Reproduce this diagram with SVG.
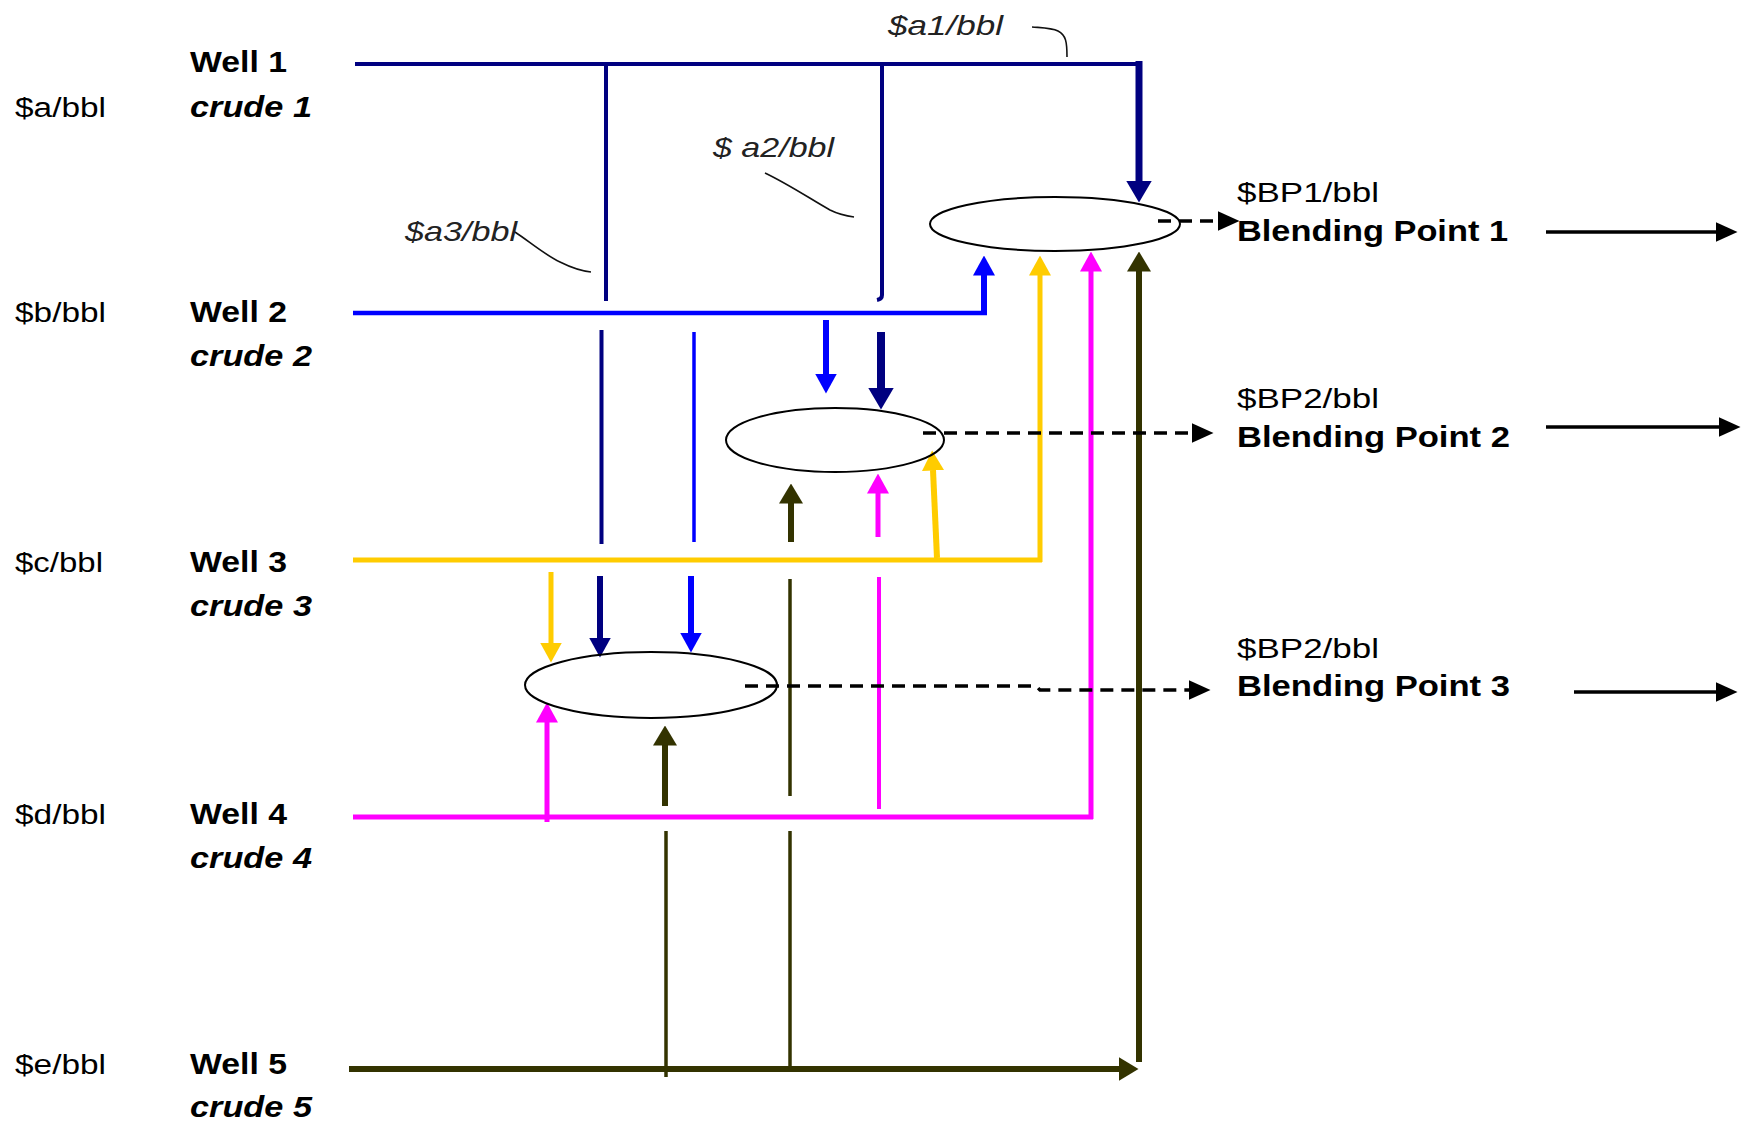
<svg xmlns="http://www.w3.org/2000/svg" width="1750" height="1125" viewBox="0 0 1750 1125">
<style>
text{font-family:"Liberation Sans",Arial,sans-serif;fill:#000}
.price{font-size:27px}
.well{font-size:30px;font-weight:bold}
.crude{font-size:30px;font-weight:bold;font-style:italic}
.bpp{font-size:28px}
.bpn{font-size:30px;font-weight:bold}
.ann{font-size:28px;font-style:italic;fill:#222}
.ell{fill:none;stroke:#000;stroke-width:2}
.ln{fill:none;stroke-linecap:butt;stroke-linejoin:miter}
.navy{stroke:#000080}
.blue{stroke:#0000FF}
.yel{stroke:#FFCC00}
.mag{stroke:#FF00FF}
.olv{stroke:#333300}
.blk{stroke:#000}
.dash{stroke-dasharray:13 8}
.lead{fill:none;stroke:#111;stroke-width:1.6}
</style>
<defs>
<marker id="ah-navy" viewBox="0 0 20 22" refX="0.5" refY="11" markerWidth="20" markerHeight="22" orient="auto" markerUnits="userSpaceOnUse"><path d="M0,0 L20,11 L0,22 z" fill="#000080"/></marker>
<marker id="ah-navy-big" viewBox="0 0 22 26" refX="0.5" refY="13" markerWidth="22" markerHeight="26" orient="auto" markerUnits="userSpaceOnUse"><path d="M0,0 L22,13 L0,26 z" fill="#000080"/></marker>
<marker id="ah-blue" viewBox="0 0 20 22" refX="0.5" refY="11" markerWidth="20" markerHeight="22" orient="auto" markerUnits="userSpaceOnUse"><path d="M0,0 L20,11 L0,22 z" fill="#0000FF"/></marker>
<marker id="ah-yel" viewBox="0 0 20 22" refX="0.5" refY="11" markerWidth="20" markerHeight="22" orient="auto" markerUnits="userSpaceOnUse"><path d="M0,0 L20,11 L0,22 z" fill="#FFCC00"/></marker>
<marker id="ah-mag" viewBox="0 0 20 22" refX="0.5" refY="11" markerWidth="20" markerHeight="22" orient="auto" markerUnits="userSpaceOnUse"><path d="M0,0 L20,11 L0,22 z" fill="#FF00FF"/></marker>
<marker id="ah-olv" viewBox="0 0 20 24" refX="0.5" refY="12" markerWidth="20" markerHeight="24" orient="auto" markerUnits="userSpaceOnUse"><path d="M0,0 L20,12 L0,24 z" fill="#333300"/></marker>
<marker id="ah-blk" viewBox="0 0 22 20" refX="0.5" refY="10" markerWidth="22" markerHeight="20" orient="auto" markerUnits="userSpaceOnUse"><path d="M0,0 L22,10 L0,20 z" fill="#000"/></marker>
</defs>
<rect width="1750" height="1125" fill="#fff"/>

<g id="well1">
<text class="well" x="190" y="72" textLength="97" lengthAdjust="spacingAndGlyphs">Well 1</text>
<text class="crude" x="190" y="117" textLength="122" lengthAdjust="spacingAndGlyphs">crude 1</text>
<text class="price" x="15" y="117" textLength="91" lengthAdjust="spacingAndGlyphs">$a/bbl</text>
</g>
<g id="well2">
<text class="well" x="190" y="322" textLength="97" lengthAdjust="spacingAndGlyphs">Well 2</text>
<text class="crude" x="190" y="366" textLength="122" lengthAdjust="spacingAndGlyphs">crude 2</text>
<text class="price" x="15" y="322" textLength="91" lengthAdjust="spacingAndGlyphs">$b/bbl</text>
</g>
<g id="well3">
<text class="well" x="190" y="572" textLength="97" lengthAdjust="spacingAndGlyphs">Well 3</text>
<text class="crude" x="190" y="616" textLength="122" lengthAdjust="spacingAndGlyphs">crude 3</text>
<text class="price" x="15" y="572" textLength="88" lengthAdjust="spacingAndGlyphs">$c/bbl</text>
</g>
<g id="well4">
<text class="well" x="190" y="824" textLength="97" lengthAdjust="spacingAndGlyphs">Well 4</text>
<text class="crude" x="190" y="868" textLength="122" lengthAdjust="spacingAndGlyphs">crude 4</text>
<text class="price" x="15" y="824" textLength="91" lengthAdjust="spacingAndGlyphs">$d/bbl</text>
</g>
<g id="well5">
<text class="well" x="190" y="1074" textLength="97" lengthAdjust="spacingAndGlyphs">Well 5</text>
<text class="crude" x="190" y="1117" textLength="122" lengthAdjust="spacingAndGlyphs">crude 5</text>
<text class="price" x="15" y="1074" textLength="91" lengthAdjust="spacingAndGlyphs">$e/bbl</text>
</g>

<g id="connectors">
<!-- Well 1 navy -->
<path class="ln navy" stroke-width="4" d="M355,64 H1142"/>
<path class="ln navy" stroke-width="7" d="M1139,61 V181" marker-end="url(#ah-navy-big)"/>
<path class="ln navy" stroke-width="4" d="M882,64 V295 Q882,299 877,300"/>
<path class="ln navy" stroke-width="8" d="M881,332 V388" marker-end="url(#ah-navy-big)"/>
<path class="ln navy" stroke-width="4" d="M606,66 V301"/>
<path class="ln navy" stroke-width="4" d="M601.5,330 V544"/>
<path class="ln navy" stroke-width="6" d="M600,576 V638" marker-end="url(#ah-navy)"/>
<!-- Well 2 blue -->
<path class="ln blue" stroke-width="4.5" d="M353,313 H987"/>
<path class="ln blue" stroke-width="6" d="M984,315 V275" marker-end="url(#ah-blue)"/>
<path class="ln blue" stroke-width="3.5" d="M694,332 V542"/>
<path class="ln blue" stroke-width="6" d="M691,576 V633" marker-end="url(#ah-blue)"/>
<path class="ln blue" stroke-width="6" d="M826,320 V374" marker-end="url(#ah-blue)"/>
<!-- Well 3 yellow -->
<path class="ln yel" stroke-width="5" d="M353,560 H1042"/>
<path class="ln yel" stroke-width="5" d="M1040,562 V275" marker-end="url(#ah-yel)"/>
<path class="ln yel" stroke-width="6" d="M937,558 L933,470" marker-end="url(#ah-yel)"/>
<path class="ln yel" stroke-width="5" d="M551,572 V643" marker-end="url(#ah-yel)"/>
<!-- Well 4 magenta -->
<path class="ln mag" stroke-width="5" d="M353,817 H1093"/>
<path class="ln mag" stroke-width="5" d="M1091,819 V271" marker-end="url(#ah-mag)"/>
<path class="ln mag" stroke-width="5" d="M547,822 V722" marker-end="url(#ah-mag)"/>
<path class="ln mag" stroke-width="4" d="M879,577 V809"/>
<path class="ln mag" stroke-width="5" d="M878,537 V493" marker-end="url(#ah-mag)"/>
<!-- Well 5 olive -->
<path class="ln olv" stroke-width="6" d="M349,1069 H1119" marker-end="url(#ah-olv)"/>
<path class="ln olv" stroke-width="6" d="M1139,1062 V271" marker-end="url(#ah-olv)"/>
<path class="ln olv" stroke-width="3.5" d="M666,1077 V831"/>
<path class="ln olv" stroke-width="6" d="M665,806 V745" marker-end="url(#ah-olv)"/>
<path class="ln olv" stroke-width="3.5" d="M790,1069 V831"/>
<path class="ln olv" stroke-width="3.5" d="M790,796 V579"/>
<path class="ln olv" stroke-width="6" d="M791,542 V503" marker-end="url(#ah-olv)"/>
<!-- outputs -->
<path class="ln blk dash" stroke-width="3.5" d="M1158,221 H1218" marker-end="url(#ah-blk)"/>
<path class="ln blk dash" stroke-width="3.5" d="M923,433 H1192" marker-end="url(#ah-blk)"/>
<path class="ln blk dash" stroke-width="3.5" d="M745,686 H1036 L1040,690 H1189" marker-end="url(#ah-blk)"/>
<path class="ln blk" stroke-width="3.5" d="M1546,232 H1716" marker-end="url(#ah-blk)"/>
<path class="ln blk" stroke-width="3.5" d="M1546,427 H1719" marker-end="url(#ah-blk)"/>
<path class="ln blk" stroke-width="3.5" d="M1574,692 H1716" marker-end="url(#ah-blk)"/>
</g>

<g id="bp1">
<ellipse class="ell" cx="1055" cy="224" rx="125" ry="27"/>
<text class="bpp" x="1237" y="202" textLength="142" lengthAdjust="spacingAndGlyphs">$BP1/bbl</text>
<text class="bpn" x="1237" y="241" textLength="271" lengthAdjust="spacingAndGlyphs">Blending Point 1</text>
</g>
<g id="bp2">
<ellipse class="ell" cx="835" cy="440" rx="109" ry="32"/>
<text class="bpp" x="1237" y="408" textLength="142" lengthAdjust="spacingAndGlyphs">$BP2/bbl</text>
<text class="bpn" x="1237" y="447" textLength="273" lengthAdjust="spacingAndGlyphs">Blending Point 2</text>
</g>
<g id="bp3">
<ellipse class="ell" cx="651" cy="685" rx="126" ry="33"/>
<text class="bpp" x="1237" y="658" textLength="142" lengthAdjust="spacingAndGlyphs">$BP2/bbl</text>
<text class="bpn" x="1237" y="696" textLength="273" lengthAdjust="spacingAndGlyphs">Blending Point 3</text>
</g>

<g id="annotations">
<text class="ann" x="888" y="35" textLength="115" lengthAdjust="spacingAndGlyphs">$a1/bbl</text>
<path class="lead" d="M1032,27 C1045,28 1052,28 1058,31 C1066,35 1067,42 1067,57"/>
<text class="ann" x="713" y="157" textLength="121" lengthAdjust="spacingAndGlyphs">$ a2/bbl</text>
<path class="lead" d="M765,173 C790,185 812,200 830,210 C838,214 846,216 854,217"/>
<text class="ann" x="405" y="241" textLength="112" lengthAdjust="spacingAndGlyphs">$a3/bbl</text>
<path class="lead" d="M515,232 C530,242 545,255 560,262 C572,268 582,271 591,272"/>
</g>
</svg>
